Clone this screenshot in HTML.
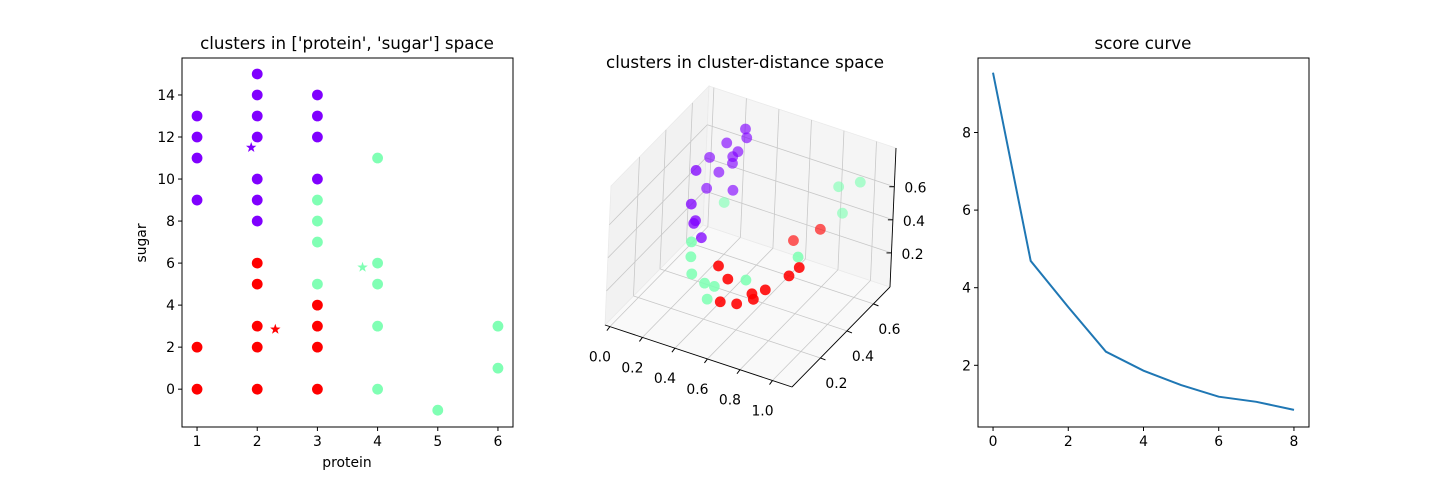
<!DOCTYPE html>
<html><head><meta charset="utf-8"><style>
html,body{margin:0;padding:0;background:#fff;}
svg{display:block;font-family:"DejaVu Sans","Liberation Sans",sans-serif;}
</style></head><body>
<svg id="fig" width="1454" height="480" viewBox="0 0 1454 480">
<rect width="1454" height="480" fill="#fff"/>
<g id="g1"></g>
<g id="g2"></g>
<g id="g3"></g>
</svg>
<script>
// ---------- data: chart 1 ----------
const protein = [1,1,1,1,2,2,2,2,2,2,2,3,3,3,3, 3,3,3,3,4,4,4,4,4,5,6,6, 1,1,2,2,2,2,2,3,3,3,3];
const sugar   = [13,12,11,9,15,14,13,12,10,9,8,14,13,12,10, 9,8,7,5,11,6,5,3,0,-1,3,1, 2,0,6,5,3,2,0,4,3,2,0];
const cluster1 = [0,0,0,0,0,0,0,0,0,0,0,0,0,0,0, 1,1,1,1,1,1,1,1,1,1,1,1, 2,2,2,2,2,2,2,2,2,2,2];
const centroidProtein = [1.9, 3.75, 2.3];
const centroidSugar = [11.5, 5.8, 2.85];
const xTicks1 = [1,2,3,4,5,6];
const yTicks1 = [0,2,4,6,8,10,12,14];
// ---------- data: chart 2 (3D) ----------
const dx = [0.26,0.27,0.15,0.22,0.19,0.19,0.05,0.14,0.11,0.04,0.20,0.12,0.15,0.14,0.19,
            0.15,0.30,0.30,0.31,0.39,0.45,0.41,0.64,0.95,0.84,0.97,0.87,
            0.47,0.53,0.49,0.59,0.68,0.69,0.76,0.90,0.96,0.58,0.74];
const dy = [0.65,0.65,0.65,0.65,0.65,0.65,0.65,0.43,0.65,0.65,0.65,0.43,0.43,0.43,0.43,
            0.65,0.21,0.21,0.21,0.21,0.21,0.21,0.21,0.21,0.65,0.65,0.65,
            0.21,0.21,0.21,0.21,0.21,0.21,0.21,0.21,0.21,0.65,0.65];
const dz = [0.73,0.68,0.61,0.58,0.54,0.50,0.49,0.62,0.42,0.30,0.34,0.41,0.32,0.30,0.23,
            0.25,0.42,0.33,0.23,0.20,0.20,0.11,0.30,0.54,0.57,0.64,0.42,
            0.33,0.27,0.12,0.14,0.23,0.20,0.28,0.41,0.48,0.16,0.28];
const cluster3d = [0,0,0,0,0,0,0,0,0,0,0,0,0,0,0, 1,1,1,1,1,1,1,1,1,1,1,1, 2,2,2,2,2,2,2,2,2,2,2];
const xTicks3 = [0.0,0.2,0.4,0.6,0.8,1.0];
const yTicks3 = [0.2,0.4,0.6];
const zTicks3 = [0.2,0.4,0.6];
// ---------- data: chart 3 ----------
const kValues = [0,1,2,3,4,5,6,7,8];
const scores = [9.54,4.69,3.5,2.35,1.86,1.49,1.19,1.06,0.85];
const xTicks4 = [0,2,4,6,8];
const yTicks4 = [2,4,6,8];

const colors = ['#8000ff','#80ffb4','#ff0000'];
const NS = 'http://www.w3.org/2000/svg';
const FS = 13.9, TS = 16.7;
function mk(parent, tag, attrs, text){
  const e = document.createElementNS(NS, tag);
  for (const k in attrs) e.setAttribute(k, attrs[k]);
  if (text !== undefined) e.textContent = text;
  parent.appendChild(e); return e;
}
function starPts(cx, cy, R){
  const r = R*0.4, p = [];
  for (let i=0;i<10;i++){ const a = -Math.PI/2 + i*Math.PI/5; const rr = i%2?r:R; p.push((cx+rr*Math.cos(a)).toFixed(1)+','+(cy+rr*Math.sin(a)).toFixed(1)); }
  return p.join(' ');
}

// ===== chart 1 =====
(function(){
  const g = document.getElementById('g1');
  const L=182,R=513,T=58,B=427, x0=0.75,x1=6.25,y0=-1.8,y1=15.76;
  const sx = v => L + (v-x0)/(x1-x0)*(R-L);
  const sy = v => B - (v-y0)/(y1-y0)*(B-T);
  for (let i=0;i<protein.length;i++){
    const c = mk(g,'circle',{cx:sx(protein[i]),cy:sy(sugar[i]),r:5.4,fill:colors[cluster1[i]]});
    
    
  }
  for (let k=0;k<3;k++){
    const s = mk(g,'polygon',{points:starPts(sx(centroidProtein[k]),sy(centroidSugar[k]),5.5),fill:colors[k]});
    
    
  }
  const f = mk(g,'rect',{x:L,y:T,width:R-L,height:B-T,fill:'none',stroke:'#000','stroke-width':1});
  
  
  xTicks1.forEach(v=>{
    mk(g,'line',{x1:sx(v),x2:sx(v),y1:B,y2:B+4,stroke:'#000'});
    const t = mk(g,'text',{x:sx(v),y:B+19,'text-anchor':'middle','font-size':FS},String(v));
    
    
  });
  yTicks1.forEach(v=>{
    mk(g,'line',{x1:L-4,x2:L,y1:sy(v),y2:sy(v),stroke:'#000'});
    const t = mk(g,'text',{x:L-7,y:sy(v)+5,'text-anchor':'end','font-size':FS},String(v));
    
    
  });
  const t1 = mk(g,'text',{x:347,y:49,'text-anchor':'middle','font-size':TS},"clusters in ['protein', 'sugar'] space");
  
  
  const xl = mk(g,'text',{x:347,y:467,'text-anchor':'middle','font-size':FS},'protein');
  
  
  const yl = mk(g,'text',{x:146,y:243,'text-anchor':'middle','font-size':FS,transform:'rotate(-90 146 243)'},'sugar');
  
  
})();

// ===== chart 2 (3D) =====
(function(){
  const g = document.getElementById('g2');
  const xl=[-0.03,1.12], yl=[-0.015,0.725], zl=[-0.006,0.834];
  const O=[605,325], ex=[187,62], ey=[98,-100], ez=[6,-139];
  const P = (a,b,c)=>[O[0]+a*ex[0]+b*ey[0]+c*ez[0], O[1]+a*ex[1]+b*ey[1]+c*ez[1]];
  const nx = v=>(v-xl[0])/(xl[1]-xl[0]), ny = v=>(v-yl[0])/(yl[1]-yl[0]), nz = v=>(v-zl[0])/(zl[1]-zl[0]);
  const poly = (pts, fill, name)=>{
    const p = mk(g,'polygon',{points:pts.map(q=>P(...q).join(',')).join(' '),fill:fill,stroke:'#eaeaea','stroke-width':0.8});
    
    
  };
  poly([[0,0,0],[1,0,0],[1,1,0],[0,1,0]],'#f9f9f9','floor-pane');
  poly([[0,0,0],[0,1,0],[0,1,1],[0,0,1]],'#f2f2f2','left-pane');
  poly([[0,1,0],[1,1,0],[1,1,1],[0,1,1]],'#f5f5f5','back-pane');
  const ln = (a,b,st,w)=>mk(g,'line',{x1:P(...a)[0],y1:P(...a)[1],x2:P(...b)[0],y2:P(...b)[1],stroke:st,'stroke-width':w});
  const gc='#c8c8c8';
  xTicks3.forEach(v=>{ const a=nx(v); ln([a,0,0],[a,1,0],gc,0.8); ln([a,1,0],[a,1,1],gc,0.8); });
  yTicks3.forEach(v=>{ const b=ny(v); ln([0,b,0],[1,b,0],gc,0.8); ln([0,b,0],[0,b,1],gc,0.8); });
  zTicks3.forEach(v=>{ const c=nz(v); ln([0,0,c],[0,1,c],gc,0.8); ln([0,1,c],[1,1,c],gc,0.8); });
  ln([0,0,0],[1,0,0],'#000',0.9); ln([1,0,0],[1,1,0],'#000',0.9); ln([1,1,0],[1,1,1],'#000',0.9);
  const idx = dx.map((_,i)=>i).sort((i,j)=>(ny(dy[j])-nx(dx[j])*0.3)-(ny(dy[i])-nx(dx[i])*0.3));
  idx.forEach(i=>{
    const q = P(nx(dx[i]),ny(dy[i]),nz(dz[i]));
    const depth = ny(dy[i]);
    const c = mk(g,'circle',{cx:q[0],cy:q[1],r:5.4,fill:colors[cluster3d[i]],'fill-opacity':(1-0.4*depth).toFixed(2)});
    
    
  });
  xTicks3.forEach(v=>{
    const q=P(nx(v),0,0);
    mk(g,'line',{x1:q[0],y1:q[1],x2:q[0]-3,y2:q[1]+4,stroke:'#000'});
    const t = mk(g,'text',{x:q[0]-10,y:q[1]+35,'text-anchor':'middle','font-size':FS},v.toFixed(1));
    
    
  });
  yTicks3.forEach(v=>{
    const q=P(1,ny(v),0);
    mk(g,'line',{x1:q[0],y1:q[1],x2:q[0]+5,y2:q[1]+2,stroke:'#000'});
    const t = mk(g,'text',{x:q[0]+16,y:q[1]+30,'text-anchor':'middle','font-size':FS},v.toFixed(1));
    
    
  });
  zTicks3.forEach(v=>{
    const q=P(1,1,nz(v));
    mk(g,'line',{x1:q[0],y1:q[1],x2:q[0]-5,y2:q[1],stroke:'#000'});
    const t = mk(g,'text',{x:q[0]+10,y:q[1]+6,'text-anchor':'start','font-size':FS},v.toFixed(1));
    
    
  });
  const tt = mk(g,'text',{x:745,y:68,'text-anchor':'middle','font-size':TS},'clusters in cluster-distance space');
  
  
})();

// ===== chart 3 =====
(function(){
  const g = document.getElementById('g3');
  const L=978,R=1309,T=58,B=427, x0=-0.4,x1=8.4,y0=0.41,y1=9.92;
  const sx = v => L + (v-x0)/(x1-x0)*(R-L);
  const sy = v => B - (v-y0)/(y1-y0)*(B-T);
  const d = kValues.map((k,i)=>(i?'L':'M')+sx(k).toFixed(1)+','+sy(scores[i]).toFixed(1)).join(' ');
  const p = mk(g,'path',{d:d,fill:'none',stroke:'#1f77b4','stroke-width':2});
  
  
  const f = mk(g,'rect',{x:L,y:T,width:R-L,height:B-T,fill:'none',stroke:'#000','stroke-width':1});
  
  
  xTicks4.forEach(v=>{
    mk(g,'line',{x1:sx(v),x2:sx(v),y1:B,y2:B+4,stroke:'#000'});
    const t = mk(g,'text',{x:sx(v),y:B+19,'text-anchor':'middle','font-size':FS},String(v));
    
    
  });
  yTicks4.forEach(v=>{
    mk(g,'line',{x1:L-4,x2:L,y1:sy(v),y2:sy(v),stroke:'#000'});
    const t = mk(g,'text',{x:L-7,y:sy(v)+5,'text-anchor':'end','font-size':FS},String(v));
    
    
  });
  const tt = mk(g,'text',{x:1143,y:49,'text-anchor':'middle','font-size':TS},'score curve');
  
  
})();
</script>
</body></html>
